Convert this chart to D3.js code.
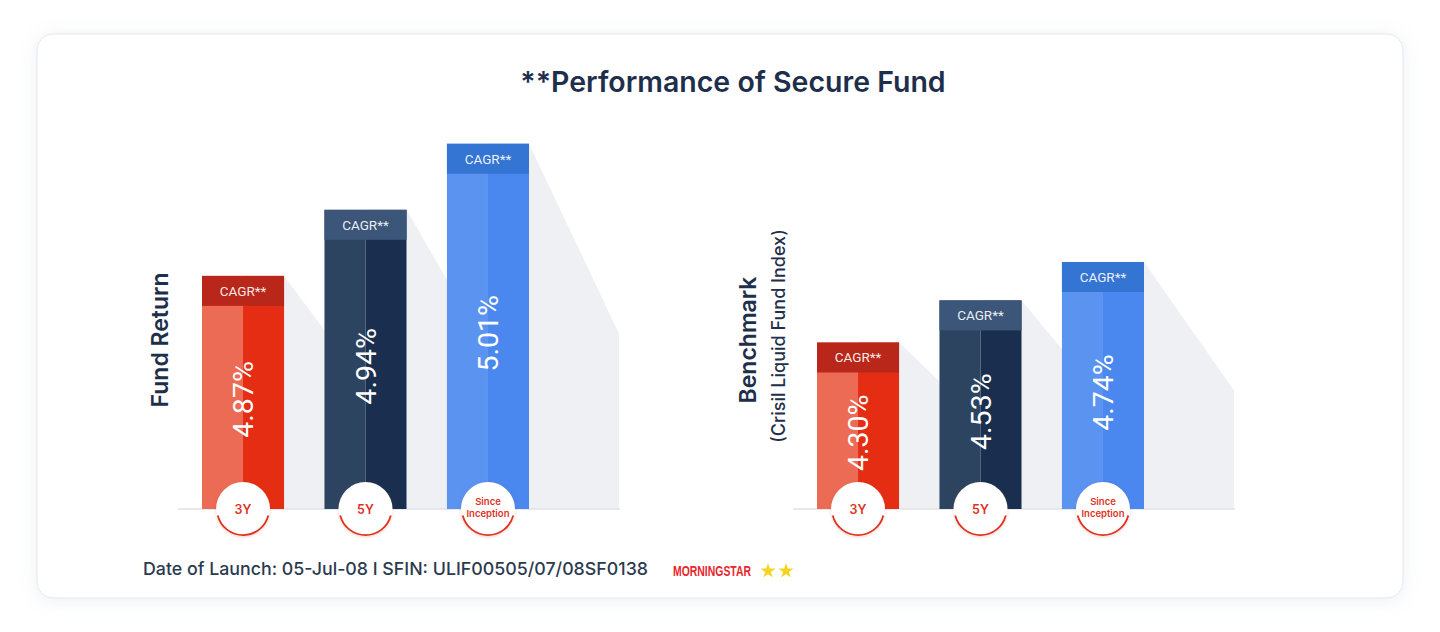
<!DOCTYPE html>
<html>
<head>
<meta charset="utf-8">
<script src="https://cdn.jsdelivr.net/npm/d3@7"></script>
<style>
  html, body { margin: 0; padding: 0; background: #fff; }
  svg { display: block; font-family: Inter, "Noto Sans", sans-serif; }
</style>
</head>
<body>
<svg id="chart"></svg>
<script>
// Chart data
const categories = ["3Y", "5Y", "Since Inception"];
const fundValues = [4.87, 4.94, 5.01];
const benchmarkValues = [4.30, 4.53, 4.74];
const headerLabel = "CAGR**";
const title = "**Performance of Secure Fund";
const footerText = "Date of Launch: 05-Jul-08 I SFIN: ULIF00505/07/08SF0138";
const ratingStars = 2;

// Colours per category: light half, dark half, header band
const palette = [
  { light: "#eb6b55", dark: "#e42d13", head: "#b9271a" },
  { light: "#2d4461", dark: "#1a2f4f", head: "#3b5678" },
  { light: "#5b93f0", dark: "#4a87ee", head: "#3474d2" },
];

const W = 1440, H = 632;
const baseline = 509;
const headH = 30;

const svg = d3.select("#chart").attr("width", W).attr("height", H);
const defs = svg.append("defs");

const cardShadow = defs.append("filter").attr("id", "cardShadow")
  .attr("x", "-5%").attr("y", "-10%").attr("width", "110%").attr("height", "120%");
cardShadow.append("feDropShadow").attr("dx", 0).attr("dy", 2)
  .attr("stdDeviation", 8).attr("flood-color", "#9aa6c0").attr("flood-opacity", 0.18);

const circleShadow = defs.append("filter").attr("id", "circleShadow")
  .attr("x", "-40%").attr("y", "-40%").attr("width", "180%").attr("height", "180%");
circleShadow.append("feDropShadow").attr("dx", 0).attr("dy", 1)
  .attr("stdDeviation", 1.5).attr("flood-color", "#c0392b").attr("flood-opacity", 0.25);

// card
svg.append("rect")
  .attr("x", 37).attr("y", 34).attr("width", 1366).attr("height", 564)
  .attr("rx", 16).attr("fill", "#fff")
  .attr("stroke", "#e4e7ed").attr("stroke-width", 1)
  .attr("filter", "url(#cardShadow)");

svg.append("text")
  .attr("x", 733).attr("y", 92)
  .attr("text-anchor", "middle")
  .attr("font-size", 28.5).attr("font-weight", 600)
  .attr("fill", "#1e2f4b")
  .text(title);

// one bar panel
function drawPanel(values, opts) {
  const g = svg.append("g");
  const x = d3.scaleBand().domain(categories).range(opts.xRange)
    .paddingInner(0.33).paddingOuter(0);
  const y = d3.scaleLinear().domain(opts.yDomain).range([baseline, opts.yTop]);
  const bw = x.bandwidth();
  const rows = categories.map((c, i) => ({ cat: c, value: values[i], i }));

  // diagonal shadows behind the bars
  g.selectAll("path.shadow").data(rows).enter().append("path")
    .attr("class", "shadow")
    .attr("fill", "#eef0f3")
    .attr("d", (d) => {
      const x1 = x(d.cat) + bw;
      const top = y(d.value);
      const h = baseline - top;
      const x2 = x1 + 90;
      return `M${x1},${top}L${x2},${baseline - h * 0.48}L${x2},${baseline}L${x1},${baseline}Z`;
    });

  g.append("line")
    .attr("x1", opts.lineRange[0]).attr("x2", opts.lineRange[1])
    .attr("y1", baseline).attr("y2", baseline)
    .attr("stroke", "#dfe2e6").attr("stroke-width", 1.5);

  const bars = g.selectAll("g.bar").data(rows).enter().append("g").attr("class", "bar");

  bars.append("rect")
    .attr("x", (d) => x(d.cat)).attr("y", (d) => y(d.value))
    .attr("width", bw / 2).attr("height", (d) => baseline - y(d.value))
    .attr("fill", (d) => palette[d.i].light);
  bars.append("rect")
    .attr("x", (d) => x(d.cat) + bw / 2).attr("y", (d) => y(d.value))
    .attr("width", bw / 2).attr("height", (d) => baseline - y(d.value))
    .attr("fill", (d) => palette[d.i].dark);
  bars.append("rect")
    .attr("x", (d) => x(d.cat)).attr("y", (d) => y(d.value))
    .attr("width", bw).attr("height", headH)
    .attr("fill", (d) => palette[d.i].head);

  bars.append("text")
    .attr("x", (d) => x(d.cat) + bw / 2).attr("y", (d) => y(d.value) + headH / 2)
    .attr("dy", "0.36em").attr("text-anchor", "middle")
    .attr("font-family", "Roboto, sans-serif")
    .attr("font-size", 13.5).attr("fill", "#fff").attr("fill-opacity", 0.92)
    .text(headerLabel);

  // rotated value labels
  bars.append("text")
    .attr("transform", (d) => {
      const cx = x(d.cat) + bw / 2;
      const cy = (y(d.value) + headH + baseline) / 2 - 8;
      return `translate(${cx},${cy}) rotate(-90)`;
    })
    .attr("text-anchor", "middle").attr("dy", "0.36em")
    .attr("font-family", "Roboto, sans-serif")
    .attr("font-size", 28.5).attr("fill", "#fff")
    .text((d) => d.value.toFixed(2) + "%");

  // category badges
  const r = 27;
  const badge = bars.append("g")
    .attr("transform", (d) => `translate(${x(d.cat) + bw / 2},${baseline})`);
  badge.append("circle").attr("r", r).attr("fill", "#fff")
    .attr("filter", "url(#circleShadow)");
  const arc = d3.arc().innerRadius(r - 1.8).outerRadius(r)
    .startAngle(Math.PI * 0.58).endAngle(Math.PI * 1.42);
  badge.append("path").attr("d", arc()).attr("fill", "#e0321e");
  badge.each(function (d) {
    const words = d.cat.split(" ");
    const t = d3.select(this).append("text")
      .attr("text-anchor", "middle")
      .attr("fill", "#e0321e").attr("font-weight", 600);
    if (words.length === 1) {
      t.attr("font-size", 12.5).attr("dy", "0.36em").text(d.cat);
    } else {
      t.attr("font-size", 9.5);
      words.forEach((w, k) => {
        t.append("tspan").attr("x", 0)
          .attr("y", k === 0 ? -4 : 8).text(w);
      });
    }
  });

  // y axis title(s)
  opts.labels.forEach((l) => {
    svg.append("text")
      .attr("transform", `translate(${l.x},${l.y}) rotate(-90)`)
      .attr("text-anchor", "middle").attr("dy", "0.36em")
      .attr("font-size", l.size).attr("font-weight", l.weight)
      .attr("fill", "#1e2f4b")
      .text(l.text);
  });
}

drawPanel(fundValues, {
  xRange: [202, 529],
  yDomain: [4.623, 5.05],
  yTop: 106,
  lineRange: [178, 620],
  labels: [{ text: "Fund Return", x: 160, y: 340, size: 23, weight: 600 }],
});

drawPanel(benchmarkValues, {
  xRange: [817, 1144],
  yDomain: [3.39, 4.8],
  yTop: 251,
  lineRange: [793, 1235],
  labels: [
    { text: "Benchmark", x: 748, y: 340, size: 23, weight: 600 },
    { text: "(Crisil Liquid Fund Index)", x: 779, y: 336, size: 18, weight: 500 },
  ],
});

// footer
svg.append("text")
  .attr("x", 143).attr("y", 575)
  .attr("font-size", 17.8).attr("font-weight", 500)
  .attr("fill", "#2c3a4f")
  .text(footerText);

svg.append("text")
  .attr("x", 673).attr("y", 576)
  .attr("font-family", "'Liberation Sans Narrow', 'Liberation Sans', sans-serif")
  .attr("font-size", 15).attr("font-weight", 700)
  .attr("textLength", 78).attr("lengthAdjust", "spacingAndGlyphs")
  .attr("fill", "#e8262b")
  .text("MORNINGSTAR");

const star = d3.symbol().type(d3.symbolStar).size(70);
svg.selectAll("path.star").data(d3.range(ratingStars)).enter().append("path")
  .attr("class", "star")
  .attr("transform", (d) => `translate(${768 + d * 18},${571})`)
  .attr("d", star())
  .attr("fill", "#f6d31c");
</script>
</body>
</html>
